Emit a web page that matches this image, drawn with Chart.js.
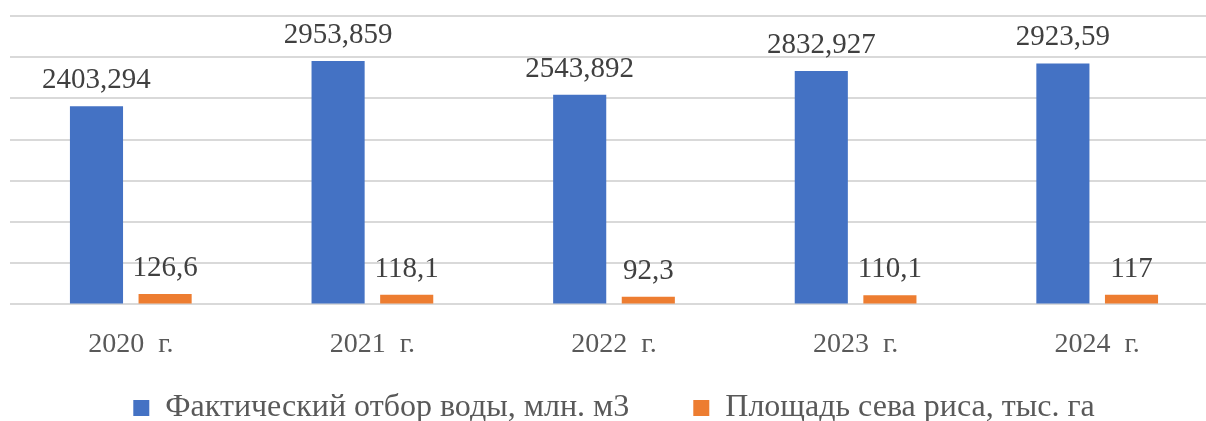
<!DOCTYPE html>
<html>
<head>
<meta charset="utf-8">
<script src="https://cdn.jsdelivr.net/npm/chart.js@4/dist/chart.umd.min.js"></script>
<style>
  html, body { margin: 0; padding: 0; background: #fff; overflow: hidden; }
  #wrap { width: 1206px; height: 421px; overflow: hidden; }
</style>
</head>
<body>
<div id="wrap"><canvas id="chart" width="1228" height="434"></canvas></div>
<script>
// data
const years = ['2020  г.', '2021  г.', '2022  г.', '2023  г.', '2024  г.'];
const waterIntake = [2403.294, 2953.859, 2543.892, 2832.927, 2923.59];
const riceArea = [126.6, 118.1, 92.3, 110.1, 117];
const seriesNames = ['Фактический отбор воды, млн. м3', 'Площадь сева риса, тыс. га'];

const FONT = 'Liberation Serif';

function fmt(v) {
    return String(v).replace('.', ',');
}

// value labels above bars
const barLabels = {
    id: 'barLabels',
    afterDatasetsDraw(chart) {
        const ctx = chart.ctx;
        ctx.save();
        ctx.font = '29px "' + FONT + '"';
        ctx.fillStyle = '#404040';
        ctx.textAlign = 'center';
        ctx.textBaseline = 'alphabetic';
        chart.data.datasets.forEach((ds, i) => {
            chart.getDatasetMeta(i).data.forEach((bar, j) => {
                ctx.fillText(fmt(ds.data[j]), bar.x, bar.y - 18);
            });
        });
        ctx.restore();
    }
};

new Chart(document.getElementById('chart'), {
    type: 'bar',
    data: {
        labels: years,
        datasets: [
            {
                label: seriesNames[0],
                data: waterIntake,
                backgroundColor: '#4472C4',
                categoryPercentage: 0.568,
                barPercentage: 0.774,
            },
            {
                label: seriesNames[1],
                data: riceArea,
                backgroundColor: '#ED7D31',
                categoryPercentage: 0.568,
                barPercentage: 0.774,
            }
        ]
    },
    options: {
        responsive: false,
        animation: false,
        layout: {
            padding: { left: 10, right: 10, top: 16, bottom: 0 }
        },
        plugins: {
            legend: {
                position: 'bottom',
                labels: {
                    color: '#595959',
                    font: { family: FONT, size: 32 },
                    boxWidth: 16,
                    boxHeight: 16,
                    padding: 16,
                    generateLabels(chart) {
                        const items = Chart.defaults.plugins.legend.labels.generateLabels(chart);
                        // wider gap after the first item, as in the original
                        items[0].text += '\u00a0\u00a0\u00a0\u00a0\u00a0\u00a0';
                        return items;
                    }
                }
            },
            tooltip: { enabled: false }
        },
        scales: {
            x: {
                grid: { display: false },
                border: { display: false },
                ticks: {
                    color: '#595959',
                    font: { family: FONT, size: 28 },
                    padding: 15,
                    maxRotation: 0
                }
            },
            y: {
                min: 0,
                max: 3500,
                border: { display: false },
                grid: { color: '#d9d9d9', lineWidth: 2, drawTicks: false },
                ticks: { display: false, stepSize: 500 }
            }
        }
    },
    plugins: [barLabels]
});
</script>
</body>
</html>
